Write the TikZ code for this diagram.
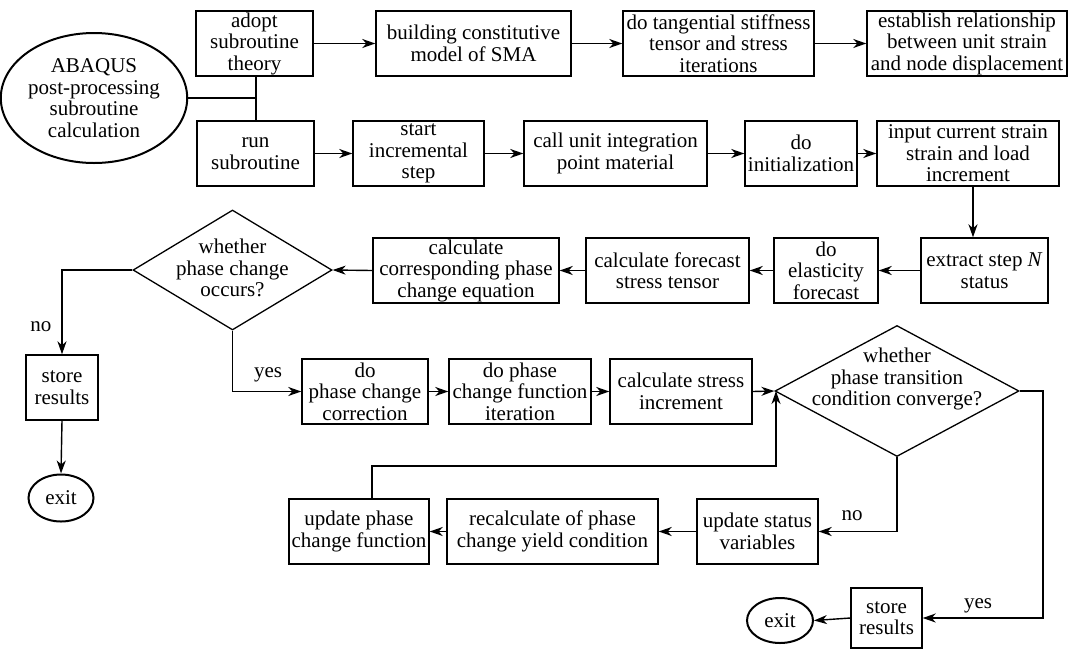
\documentclass[tikz,border=0pt]{standalone}
\usepackage{fontspec}
\setmainfont{Liberation Serif}
\usetikzlibrary{shapes.geometric,arrows.meta}
\begin{document}
\begin{tikzpicture}[x=1pt,y=-1pt,
  every node/.style={font=\fontsize{21}{21.5}\selectfont, align=center, inner sep=0pt},
  box/.style={draw, line width=1.4pt, rectangle},
  oval/.style={draw, line width=2pt, ellipse},
  dia/.style={draw, line width=1.3pt, diamond},
  ln/.style={line width=1.4pt},
  arr/.style={line width=1.4pt, -{Stealth[length=13pt,width=9pt,inset=4pt]}},
  lbl/.style={font=\fontsize{21}{21.5}\selectfont}]
\useasboundingbox (0,0) rectangle (1069,649);
% row 1
\node[oval, minimum width=172, minimum height=130] (ell) at (94,98) {ABAQUS\\post-processing\\subroutine\\calculation};
\node[box, minimum width=117, minimum height=65] (adopt) at (254.5,43.5) {adopt\\subroutine\\theory};
\node[box, minimum width=195, minimum height=65] (build) at (473.5,43.5) {building constitutive\\model of SMA};
\node[box, minimum width=191, minimum height=65] (tang) at (718.5,43.5) {do tangential stiffness\\tensor and stress\\iterations};
\node[box, minimum width=200, minimum height=65] (estab) at (967,43.5) {establish relationship\\between unit strain\\and node displacement};
% row 2
\node[box, minimum width=117, minimum height=65] (run) at (255.5,153.5) {run\\subroutine};
\node[box, minimum width=131, minimum height=65] (start) at (418.5,153.5) {start\\incremental\\step};
\node[box, minimum width=183, minimum height=65] (call) at (615.5,153.5) {call unit integration\\point material};
\node[box, minimum width=112, minimum height=65] (init) at (801,153.5) {do\\initialization};
\node[box, minimum width=182, minimum height=65] (input) at (968,153.5) {input current strain\\strain and load\\increment};
% row 3
\node[box, minimum width=127, minimum height=65] (extract) at (984.5,270.5) {extract step \textit{N}\\status};
\node[box, minimum width=104, minimum height=65] (elast) at (826,270.5) {do\\elasticity\\forecast};
\node[box, minimum width=163, minimum height=65] (fore) at (667.5,270.5) {calculate forecast\\stress tensor};
\node[box, minimum width=186, minimum height=65] (corr) at (466,270.5) {calculate\\corresponding phase\\change equation};
\node[dia, minimum width=199, minimum height=120] (d1) at (232.5,270) {};
\node (d1t) at (232.5,268) {whether\\phase change\\occurs?};
% left column
\node[box, minimum width=72, minimum height=65] (store1) at (62,387.5) {store\\results};
\node[oval, minimum width=65, minimum height=47] (exit1) at (61,498) {exit};
% row 4
\node[box, minimum width=126, minimum height=65] (pcc) at (365,391.5) {do\\phase change\\correction};
\node[box, minimum width=142, minimum height=65] (pcf) at (520,391.5) {do phase\\change function\\iteration};
\node[box, minimum width=142, minimum height=65] (inc) at (681,391.5) {calculate stress\\increment};
\node[dia, minimum width=244, minimum height=131] (d2) at (897,391) {};
\node (d2t) at (897,379) {whether\\phase transition\\condition converge?};
% row 5
\node[box, minimum width=121, minimum height=65] (upd) at (757.5,531.5) {update status\\variables};
\node[box, minimum width=211, minimum height=65] (recalc) at (552.5,531.5) {recalculate of phase\\change yield condition};
\node[box, minimum width=140, minimum height=65] (upf) at (359,531.5) {update phase\\change function};
% bottom
\node[box, minimum width=71, minimum height=60] (store2) at (886.5,618) {store\\results};
\node[oval, minimum width=66, minimum height=45] (exit2) at (780,620.5) {exit};
% labels
\node[lbl] (no1) at (41,327) {no};
\node[lbl] (yes1) at (268,375) {yes};
\node[lbl] (yes2) at (978,606) {yes};
\node[lbl] (no2) at (852,516) {no};
% connectors
\coordinate (junc) at (256,98);
\draw[ln] (ell.east) -- (junc);
\draw[ln] ([xshift=1.5pt]adopt.south) -- ([xshift=0.5pt]run.north);
\draw[arr] (adopt.east) -- (build.west);
\draw[arr] (build.east) -- (tang.west);
\draw[arr] (tang.east) -- (estab.west);
\draw[arr] (run.east) -- (start.west);
\draw[arr] (start.east) -- (call.west);
\draw[arr] (call.east) -- (init.west);
\draw[arr] (init.east) -- (input.west);
\draw[arr] ([xshift=5pt]input.south) -- ([xshift=5pt]input.south |- extract.north);
\draw[arr] (extract.west) -- (elast.east);
\draw[arr] (elast.west) -- (fore.east);
\draw[arr] (fore.west) -- (corr.east);
\draw[arr] (corr.west) -- (d1.east);
\draw[arr] (d1.west) -| (store1.north);
\draw[arr] (store1.south) -- (exit1.north);
\draw[arr] (d1.south) |- (pcc.west);
\draw[arr] (pcc.east) -- (pcf.west);
\draw[arr] (pcf.east) -- (inc.west);
\draw[arr] (inc.east) -- (d2.west);
\coordinate (rt) at (1043,391);
\draw[arr] (d2.east) -- (rt) |- (store2.east);
\draw[arr] (store2.west) -- (exit2.east);
\draw[arr] (d2.south) |- (upd.east);
\draw[arr] (upd.west) -- (recalc.east);
\draw[arr] (recalc.west) -- (upf.east);
\coordinate (loopc) at (776,466);
\draw[arr] ([xshift=13pt]upf.north) |- (loopc) -- (loopc |- d2.west);
\end{tikzpicture}
\end{document}
